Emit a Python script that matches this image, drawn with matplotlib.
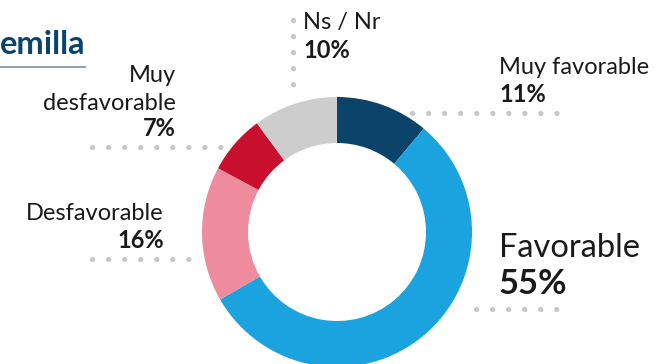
import matplotlib.pyplot as plt

plt.rcParams['font.family'] = ['Lato', 'DejaVu Sans']

labels = ['Muy favorable', 'Favorable', 'Desfavorable', 'Muy desfavorable', 'Ns / Nr']
values = [11, 55, 16, 7, 10]
colors = ['#0b4468', '#1aa3de', '#ee8b9d', '#c8102e', '#cdcdcd']

W, H = 660, 364
fig = plt.figure(figsize=(6.6, 3.64), dpi=100)
ax = fig.add_axes([0, 0, 1, 1])

# donut
ax.pie(values, colors=colors, startangle=90, counterclock=False,
       center=(337, H - 232), radius=135,
       wedgeprops=dict(width=46, linewidth=0))

def dots(x0, x1, y0, y1):
    ax.plot([x0, x1], [H - y0, H - y1], color='#c8c8c8', lw=3.8,
            linestyle=(0, (0.01, 3.03)), dash_capstyle='round', zorder=1)

# leader dots
dots(293, 293, 20, 92)
dots(412, 572, 113, 113)
dots(92, 224, 147, 147)
dots(92, 190, 259, 259)
dots(476, 572, 309, 309)

txt = '#1a1a1a'
fs = 17
fb = 17
# Ns / Nr
ax.text(303, H - 22, labels[4], fontsize=fs, color=txt, va='center')
ax.text(303, H - 50, f'{values[4]}%', fontsize=fb, color=txt, va='center', fontweight='bold')
# Muy favorable
ax.text(499, H - 68, labels[0], fontsize=fs, color=txt, va='center')
ax.text(499, H - 95, f'{values[0]}%', fontsize=fb, color=txt, va='center', fontweight='bold')
# Muy desfavorable
ax.text(176, H - 76, 'Muy', fontsize=fs, color=txt, va='center', ha='right')
ax.text(176, H - 103, 'desfavorable', fontsize=fs, color=txt, va='center', ha='right')
ax.text(176, H - 129, f'{values[3]}%', fontsize=fb, color=txt, va='center', ha='right', fontweight='bold')
# Desfavorable
ax.text(164, H - 213, labels[2], fontsize=fs, color=txt, va='center', ha='right')
ax.text(164, H - 240, f'{values[2]}%', fontsize=fb, color=txt, va='center', ha='right', fontweight='bold')
# Favorable
ax.text(499, H - 248, labels[1], fontsize=23.5, color=txt, va='center')
ax.text(499, H - 284, f'{values[1]}%', fontsize=25, color=txt, va='center', fontweight='bold')

# heading
ax.text(0, H - 44, 'emilla', fontsize=23.5, color='#0b4468', va='center', ha='left',
        fontweight='bold')
ax.plot([0, 85], [H - 67, H - 67], color='#8fa3b3', lw=1.5)

ax.set_xlim(0, W)
ax.set_ylim(0, H)
ax.set_aspect('equal')
ax.axis('off')
fig.savefig('out.png', dpi=100)
